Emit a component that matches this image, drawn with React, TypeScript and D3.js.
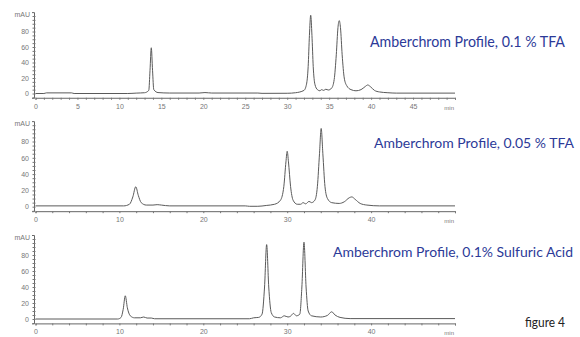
import React, { useEffect, useRef } from 'react';
import * as d3 from 'd3';

// retention time (min) vs absorbance (mAU)
const tfa01Trace: [number, number][] = [
  [0, 0], [1, 0], [1.3, 0.8], [4.3, 0.8], [4.6, 0], [11, 0], [12, 0.5], [13, 1],
  [13.5, 4], [13.65, 30], [13.8, 59], [13.95, 30], [14.1, 5], [14.6, 1.2], [16, 0.6],
  [19.5, 0.6], [20.2, 1.2], [21, 0.6], [26.5, 0.6], [27, 0.2], [30, 0.3], [31, 1],
  [32, 4], [32.3, 12], [32.5, 35], [32.65, 75], [32.8, 101], [32.95, 75], [33.1, 35],
  [33.3, 12], [33.6, 5], [33.9, 3.5], [34.1, 5], [34.35, 4], [34.6, 5.5], [34.9, 4.5],
  [35.3, 7], [35.6, 18], [35.85, 50], [36.05, 85], [36.2, 94], [36.35, 85], [36.55, 50],
  [36.8, 20], [37.1, 10], [37.6, 5], [38.2, 3.5], [38.8, 5], [39.3, 9], [39.6, 11],
  [39.9, 9], [40.4, 4], [41, 2], [42, 1], [43, 0.5], [50, 0.5],
];

const tfa005Trace: [number, number][] = [
  [0, 1], [10.5, 1], [11.2, 3], [11.6, 12], [11.95, 24.5], [12.25, 14], [12.6, 5],
  [13.2, 2], [14, 2], [14.5, 2.5], [15, 2], [16, 1], [25, 1], [25.5, 0.5], [26.5, 0.5],
  [27.5, 1.5], [28.5, 3], [29.2, 8], [29.6, 25], [29.85, 55], [30.0, 68], [30.15, 55],
  [30.4, 25], [30.7, 8], [31.2, 3], [31.6, 3], [31.9, 5], [32.2, 3.5], [32.6, 6.5],
  [32.9, 5], [33.3, 8], [33.6, 25], [33.85, 65], [34.05, 96], [34.25, 65], [34.5, 25],
  [34.8, 10], [35.3, 5], [36.2, 4], [36.8, 6], [37.4, 11], [37.7, 12], [38.1, 9],
  [38.7, 4], [39.5, 2], [41, 1], [50, 1],
];

const sulfuricTrace: [number, number][] = [
  [0, 0], [9.8, 0], [10.2, 2], [10.45, 12], [10.7, 29], [10.95, 14], [11.3, 4],
  [11.8, 1.5], [12.5, 1.5], [12.9, 2.5], [13.3, 1.2], [13.8, 1.2], [14.2, 0.3],
  [25.5, 0.3], [26, 1.5], [26.6, 2], [27, 6], [27.3, 40], [27.55, 93], [27.8, 40],
  [28.1, 8], [28.5, 2.5], [29.2, 1.5], [29.65, 4], [30.1, 2.5], [30.4, 3.5], [30.75, 7],
  [31.1, 4], [31.5, 6], [31.75, 40], [32.0, 96], [32.25, 40], [32.5, 10], [32.9, 4],
  [34, 2.5], [34.8, 4.5], [35.3, 9], [35.7, 5], [36.3, 2], [37.5, 0.5], [50, 0.5],
];

const panelLabels = [
  'Amberchrom Profile, 0.1 % TFA',
  'Amberchrom Profile, 0.05 % TFA',
  'Amberchrom Profile, 0.1% Sulfuric Acid',
];
const yTicks = [0, 20, 40, 60, 80];
const xTicksFine = [0, 5, 10, 15, 20, 25, 30, 35, 40, 45];
const xTicksCoarse = [0, 10, 20, 30, 40];

const panels = [
  { trace: tfa01Trace, label: panelLabels[0], zeroY: 93.5, px20: 15.5, xTicks: xTicksFine, minorStep: 1,
    lx: 370, ly: 46.7, lw: 195, fs: 15 },
  { trace: tfa005Trace, label: panelLabels[1], zeroY: 206.7, px20: 16.3, xTicks: xTicksCoarse, minorStep: 2,
    lx: 374, ly: 148.3, lw: 200, fs: 14 },
  { trace: sulfuricTrace, label: panelLabels[2], zeroY: 319, px20: 16, xTicks: xTicksCoarse, minorStep: 2,
    lx: 333, ly: 257.3, lw: 240, fs: 13.5 },
];

const App = () => {
  const ref = useRef<SVGSVGElement>(null);

  useEffect(() => {
    const svg = d3.select(ref.current);
    svg.selectAll('*').remove();

    const x = d3.scaleLinear().domain([0, 50]).range([35.5, 455]);
    const axisFont = '"Liberation Sans", Arial, sans-serif';

    panels.forEach((p) => {
      const k = p.px20 / 20;
      const yMin = -5.5;
      const yMax = 105;
      const y = d3.scaleLinear().domain([yMin, yMax]).range([p.zeroY - yMin * k, p.zeroY - yMax * k]);
      const g = svg.append('g');

      // y axis
      const yAxisX = x(0) - 1.5;
      const yg = g.append('g').attr('transform', `translate(${yAxisX},0)`);
      yg.call(d3.axisLeft(y).tickValues(d3.range(-5, 105, 5)).tickSize(2).tickFormat(() => ''));
      yg.call((s) => s.selectAll('.tick line').attr('x2', 1.5).attr('x1', -1.5));
      const yl = g.append('g').attr('transform', `translate(${yAxisX},0)`)
        .call(d3.axisLeft(y).tickValues(yTicks).tickSize(0).tickPadding(5));
      yl.select('.domain').remove();
      yl.selectAll('text').attr('font-size', 7).attr('font-family', axisFont).attr('fill', '#777');
      g.append('text')
        .attr('x', yAxisX - 4).attr('y', y(100) + 1)
        .attr('text-anchor', 'end')
        .attr('font-size', 7).attr('font-family', axisFont).attr('fill', '#777')
        .text('mAU');

      // x axis
      const axisY = y(yMin);
      const xg = g.append('g').attr('transform', `translate(0,${axisY})`);
      xg.call(d3.axisBottom(x).tickValues(d3.range(0, 50.01, p.minorStep)).tickSize(2).tickFormat(() => ''));
      const xl = g.append('g').attr('transform', `translate(0,${axisY})`)
        .call(d3.axisBottom(x).tickValues(p.xTicks).tickSize(0).tickPadding(6));
      xl.select('.domain').remove();
      xl.selectAll('text').attr('font-size', 7).attr('font-family', axisFont).attr('fill', '#777');
      g.append('text')
        .attr('x', x(50) - 1).attr('y', axisY + 12)
        .attr('text-anchor', 'end')
        .attr('font-size', 6).attr('font-family', axisFont).attr('fill', '#777')
        .text('min');

      svg.selectAll('.domain').attr('stroke', '#666');
      svg.selectAll('.tick line').attr('stroke', '#777');

      // trace
      const line = d3.line<[number, number]>()
        .x((d) => x(d[0]))
        .y((d) => y(d[1]))
        .curve(d3.curveMonotoneX);
      g.append('path')
        .datum(p.trace)
        .attr('d', line)
        .attr('fill', 'none')
        .attr('stroke', '#5a5a5a')
        .attr('stroke-width', 1);

      // label
      g.append('text')
        .attr('x', p.lx).attr('y', p.ly)
        .attr('font-size', p.fs)
        .attr('font-family', 'Lato, "Open Sans", sans-serif')
        .attr('fill', '#2c3a98')
        .attr('textLength', p.lw)
        .attr('lengthAdjust', 'spacingAndGlyphs')
        .text(p.label);
    });

    svg.append('text')
      .attr('x', 525).attr('y', 326.7)
      .attr('font-size', 13)
      .attr('font-family', 'Lato, "Open Sans", sans-serif')
      .attr('fill', '#222')
      .attr('textLength', 40)
      .attr('lengthAdjust', 'spacingAndGlyphs')
      .text('figure 4');
  }, []);

  return (
    <svg ref={ref} width={580} height={337}
      style={{ position: 'absolute', left: 0, top: 0, background: '#fff' }} />
  );
};

export default App;
